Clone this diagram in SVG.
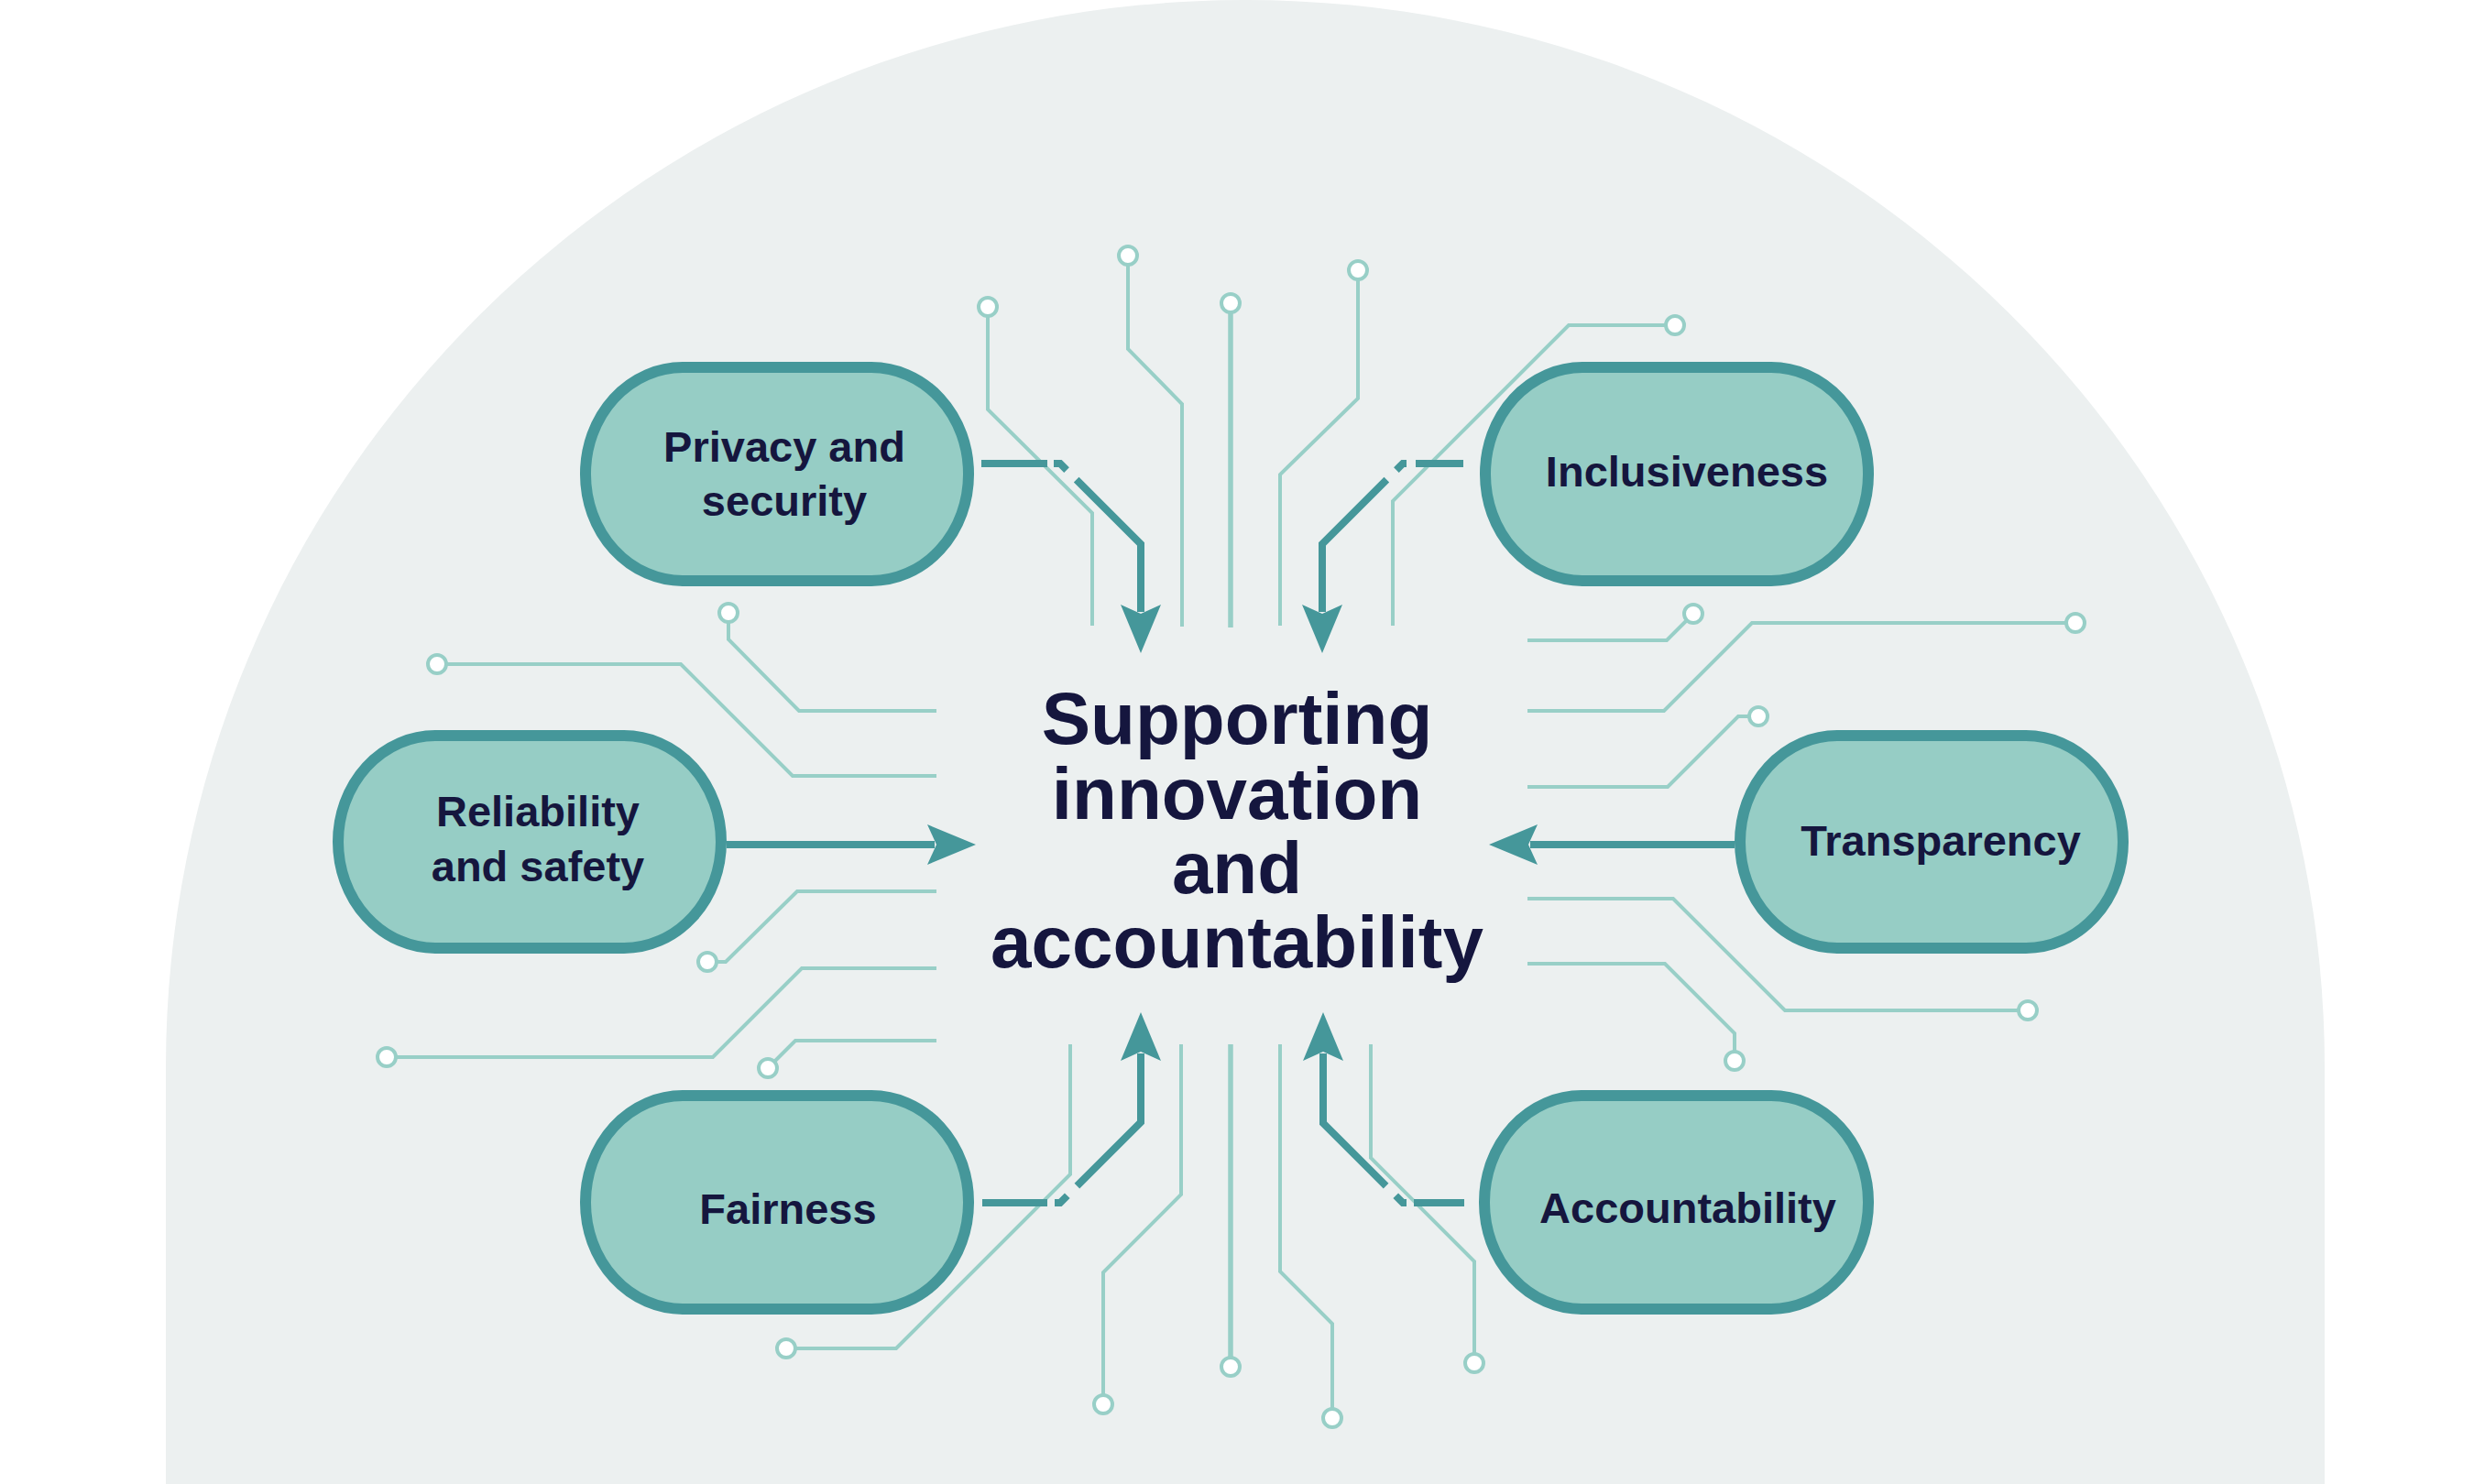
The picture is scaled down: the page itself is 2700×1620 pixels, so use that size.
<svg xmlns="http://www.w3.org/2000/svg" xmlns:xlink="http://www.w3.org/1999/xlink" width="2700" height="1620" viewBox="0 0 2700 1620">
<style>
.bg{fill:#ECF0F0}
.thin{fill:none;stroke:#98CFC7;stroke-width:4;stroke-linejoin:miter}
.mid{stroke-width:5.5}
.dot{fill:#FFFFFF;stroke:#98CFC7;stroke-width:4}
.thick{fill:none;stroke:#45979A;stroke-width:8;stroke-linejoin:miter;stroke-linecap:butt}
.head{fill:#45979A}
.node{fill:#96CDC5;stroke:#45979A;stroke-width:12}
.lbl{font-family:"Liberation Sans",Arial,sans-serif;font-weight:bold;font-size:47px;fill:#15163E;text-anchor:middle}
.title{font-family:"Liberation Sans",Arial,sans-serif;font-weight:bold;font-size:80px;fill:#15163E;text-anchor:middle}
</style>
<defs>
<path id="ah" d="M0,0 L-53,-22 L-43,0 L-53,22 Z"/>
</defs>
<rect x="0" y="0" width="2700" height="1620" fill="#FFFFFF"/>
<path class="bg" d="M181,1620 V1165 A1178,1165 0 0 1 2537,1165 V1620 Z"/>

<g id="connectors">
<g id="circuit-lines">
<path class="thin" d="M1078,335 V447 L1192,560 V683"/>
<path class="thin" d="M1231,279 V381 L1290,441 V684"/>
<path class="thin mid" d="M1343,331 V685"/>
<path class="thin" d="M1482,295 V435 L1397,518 V683"/>
<path class="thin" d="M1828,355 H1712 L1520,547 V683"/>
<path class="thin" d="M795,669 V698 L872,776 H1022"/>
<path class="thin" d="M477,725 H743 L865,847 H1022"/>
<path class="thin" d="M772,1050 H792 L870,973 H1022"/>
<path class="thin" d="M422,1154 H778 L875,1057 H1022"/>
<path class="thin" d="M838,1166 L868,1136 H1022"/>
<path class="thin" d="M1848,670 L1819,699 H1667"/>
<path class="thin" d="M2265,680 H1912 L1816,776 H1667"/>
<path class="thin" d="M1919,782 H1897 L1820,859 H1667"/>
<path class="thin" d="M1667,981 H1826 L1948,1103 H2213"/>
<path class="thin" d="M1667,1052 H1817 L1893,1128 V1158"/>
<path class="thin" d="M858,1472 H978 L1168,1282 V1140"/>
<path class="thin" d="M1204,1533 V1389 L1289,1304 V1140"/>
<path class="thin mid" d="M1343,1492 V1140"/>
<path class="thin" d="M1454,1548 V1445 L1397,1388 V1140"/>
<path class="thin" d="M1609,1488 V1377 L1496,1264 V1140"/>
<circle class="dot" cx="1078" cy="335" r="10"/>
<circle class="dot" cx="1231" cy="279" r="10"/>
<circle class="dot" cx="1343" cy="331" r="10"/>
<circle class="dot" cx="1482" cy="295" r="10"/>
<circle class="dot" cx="1828" cy="355" r="10"/>
<circle class="dot" cx="795" cy="669" r="10"/>
<circle class="dot" cx="477" cy="725" r="10"/>
<circle class="dot" cx="772" cy="1050" r="10"/>
<circle class="dot" cx="422" cy="1154" r="10"/>
<circle class="dot" cx="838" cy="1166" r="10"/>
<circle class="dot" cx="1848" cy="670" r="10"/>
<circle class="dot" cx="2265" cy="680" r="10"/>
<circle class="dot" cx="1919" cy="782" r="10"/>
<circle class="dot" cx="2213" cy="1103" r="10"/>
<circle class="dot" cx="1893" cy="1158" r="10"/>
<circle class="dot" cx="858" cy="1472" r="10"/>
<circle class="dot" cx="1204" cy="1533" r="10"/>
<circle class="dot" cx="1343" cy="1492" r="10"/>
<circle class="dot" cx="1454" cy="1548" r="10"/>
<circle class="dot" cx="1609" cy="1488" r="10"/>
</g>
<g id="arrows">
<path class="thick" d="M1071,506 H1157 L1245,594 V668" stroke-dasharray="72 7 17 15 1000"/>
<use class="head" href="#ah" xlink:href="#ah" transform="translate(1245,713) rotate(90)"/>
<path class="thick" d="M1597,506 H1531 L1443,594 V668" stroke-dasharray="52 10 14 15 1000"/>
<use class="head" href="#ah" xlink:href="#ah" transform="translate(1443,713) rotate(90)"/>
<path class="thick" d="M793,922 H1020"/>
<use class="head" href="#ah" xlink:href="#ah" transform="translate(1065,922)"/>
<path class="thick" d="M1893,922 H1670"/>
<use class="head" href="#ah" xlink:href="#ah" transform="translate(1625,922) rotate(180)"/>
<path class="thick" d="M1072,1313 H1157 L1245,1225 V1150" stroke-dasharray="71 8 17 15 1000"/>
<use class="head" href="#ah" xlink:href="#ah" transform="translate(1245,1105) rotate(-90)"/>
<path class="thick" d="M1598,1313 H1531 L1444,1226 V1150" stroke-dasharray="55 8 15 15 1000"/>
<use class="head" href="#ah" xlink:href="#ah" transform="translate(1444,1105) rotate(-90)"/>
</g>
</g>

<g id="node-privacy">
<rect class="node" x="639" y="401" width="418" height="233" rx="106" ry="116"/>
<text class="lbl" x="856" y="504">Privacy and</text>
<text class="lbl" x="856" y="563">security</text>
</g>
<g id="node-inclusiveness">
<rect class="node" x="1621" y="401" width="418" height="233" rx="106" ry="116"/>
<text class="lbl" x="1841" y="531">Inclusiveness</text>
</g>
<g id="node-reliability">
<rect class="node" x="369" y="803" width="418" height="232" rx="106" ry="116"/>
<text class="lbl" x="587" y="902">Reliability</text>
<text class="lbl" x="587" y="962">and safety</text>
</g>
<g id="node-transparency">
<rect class="node" x="1899" y="803" width="418" height="232" rx="106" ry="116"/>
<text class="lbl" x="2118" y="934">Transparency</text>
</g>
<g id="node-fairness">
<rect class="node" x="639" y="1196" width="418" height="233" rx="106" ry="116"/>
<text class="lbl" x="860" y="1336">Fairness</text>
</g>
<g id="node-accountability">
<rect class="node" x="1620" y="1196" width="419" height="233" rx="106" ry="116"/>
<text class="lbl" x="1842" y="1335">Accountability</text>
</g>
<g id="node-center">
<text class="title" x="1350" y="812">Supporting</text>
<text class="title" x="1350" y="894">innovation</text>
<text class="title" x="1350" y="975">and</text>
<text class="title" x="1350" y="1056">accountability</text>
</g>
</svg>
